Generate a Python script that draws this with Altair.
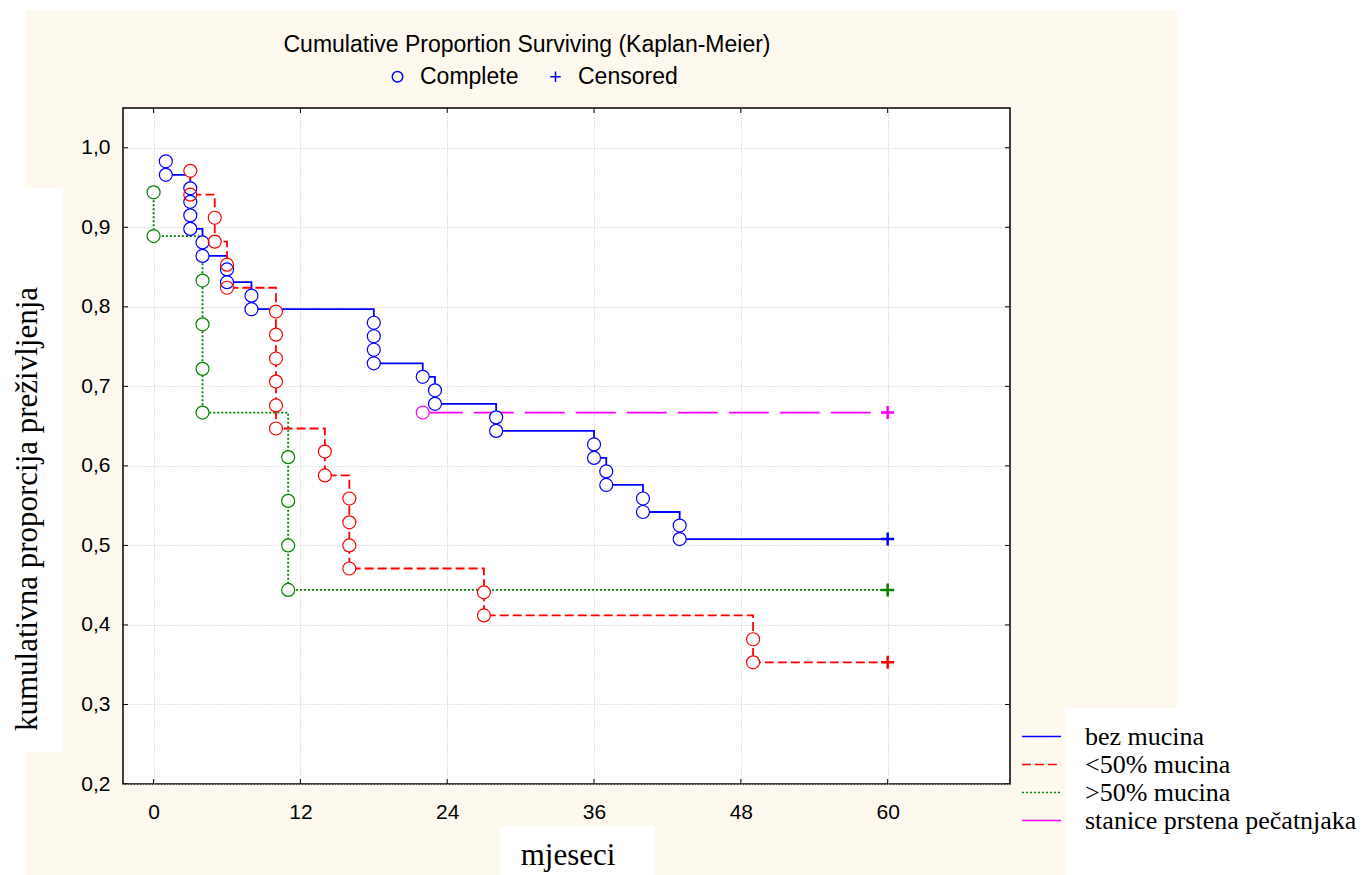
import altair as alt
import pandas as pd

# ---------------- data ----------------
groups = ["bez mucina", "<50% mucina", ">50% mucina", "stanice prstena pečatnjaka"]
colors = ["#0000FF", "#FF0000", "#008000", "#FF00FF"]
dashes = [[1, 0], [9, 4], [2, 2], [40, 11]]

blue_t = [1, 1, 3, 3, 3, 3, 4, 4, 6, 6, 8, 8, 18, 18, 18, 18, 22, 23, 23, 28, 28,
          36, 36, 37, 37, 40, 40, 43, 43]
blue_s = [0.983, 0.966, 0.949, 0.932, 0.915, 0.898, 0.881, 0.864, 0.847, 0.831,
          0.814, 0.797, 0.780, 0.763, 0.746, 0.729, 0.712, 0.695, 0.678, 0.661,
          0.644, 0.627, 0.610, 0.593, 0.576, 0.559, 0.542, 0.525, 0.508]

red_t = [3, 3, 5, 5, 6, 6, 10, 10, 10, 10, 10, 10, 14, 14, 16, 16, 16, 16, 27, 27, 49, 49]
red_s = [0.971, 0.941, 0.912, 0.882, 0.853, 0.824, 0.794, 0.765, 0.735, 0.706, 0.676,
         0.647, 0.618, 0.588, 0.559, 0.529, 0.500, 0.471, 0.441, 0.412, 0.382, 0.353]

green_t = [0, 0, 4, 4, 4, 4, 11, 11, 11, 11]
green_s = [0.944, 0.889, 0.833, 0.778, 0.722, 0.667, 0.611, 0.556, 0.500, 0.444]

magenta_t = [22]
magenta_s = [0.667]

censor_t = [60, 60, 60, 60]
censor_s = [0.508, 0.353, 0.444, 0.667]

x_ticks = [0, 12, 24, 36, 48, 60]
y_ticks = [0.2, 0.3, 0.4, 0.5, 0.6, 0.7, 0.8, 0.9, 1.0]

chart_title = "Cumulative Proportion Surviving (Kaplan-Meier)"
x_title = "mjeseci"
y_title = "kumulativna proporcija preživljenja"
kinds = ["Complete", "Censored"]

X_MIN, X_MAX = -2.5, 70
Y_MIN, Y_MAX = 0.2, 1.05

# ---------------- tables ----------------
ev_rows, cen_rows = [], []
series = [(blue_t, blue_s), (red_t, red_s), (green_t, green_s), (magenta_t, magenta_s)]
for g, (ts, ss) in zip(groups, series):
    for i, (t, s) in enumerate(zip(ts, ss)):
        ev_rows.append({"group": g, "t": t, "s": s, "kind": "Complete", "i": i})
for k, g in enumerate(groups):
    cen_rows.append({"group": g, "t": censor_t[k], "s": censor_s[k], "kind": "Censored", "i": 1000})
ev_df = pd.DataFrame(ev_rows)
cen_df = pd.DataFrame(cen_rows)
line_df = pd.concat([ev_df, cen_df], ignore_index=True)

# ---------------- scales / axes / legends ----------------
x_scale = alt.Scale(domain=[X_MIN, X_MAX], nice=False, zero=False)
y_scale = alt.Scale(domain=[Y_MIN, Y_MAX], nice=False, zero=False)
color_scale = alt.Scale(domain=groups, range=colors)
dash_scale = alt.Scale(domain=groups, range=dashes)
PLUS = "M-1,0H1M0,-1V1"
shape_scale = alt.Scale(domain=kinds, range=["circle", PLUS])

x_axis = alt.Axis(values=x_ticks, title=None, labelFont="Liberation Sans", labelFontSize=21,
                  labelColor="black", labelPadding=17, tickSize=0, domain=False, grid=True,
                  gridColor="#C4C4C4", gridDash=[1, 2], labelFlush=False)
y_axis = alt.Axis(values=y_ticks, title=None, labelFont="Liberation Sans", labelFontSize=21,
                  labelColor="black", labelPadding=13, tickSize=0, domain=False, grid=True,
                  gridColor="#C4C4C4", gridDash=[1, 2], labelFlush=False,
                  labelExpr="replace(format(datum.value, '.1f'), '.', ',')")

LEG_LINE = "M-1.45,0H1.45"
group_legend = alt.Legend(title=None, orient="none", legendX=904, legendY=614,
                          labelFont="Liberation Serif", labelFontSize=26, labelColor="black",
                          symbolType=LEG_LINE, symbolSize=729, symbolStrokeWidth=1.5,
                          labelOffset=29, rowPadding=0, labelLimit=0, zindex=1)

shape_legend = alt.Legend(title=None, orient="none", direction="horizontal",
                          legendX=263, legendY=-43, labelFont="Liberation Sans",
                          labelFontSize=23, labelColor="black", symbolStrokeColor="#0000FF",
                          symbolFillColor="transparent", symbolSize=110,
                          symbolStrokeWidth=1.5, labelOffset=11, columnPadding=25,
                          labelLimit=0, zindex=1)

# ---------------- layers ----------------
one = pd.DataFrame({"k": [0]})


def box(x0, x1, y0, y1):
    return alt.Chart(one).mark_rect(color="white").encode(
        x=alt.value(x0), x2=alt.value(x1), y=alt.value(y0), y2=alt.value(y1))


boxes = [
    box(-123, 1244, -108, -98),   # top strip
    box(-123, -98, -108, 767),    # left strip
    box(1054, 1244, -108, 600),   # right area
    box(-123, -60, 80, 644),      # y title box
    box(377, 531, 718, 767),      # x title box
    box(942, 1244, 600, 767),     # legend box
]

X = lambda f: alt.X(f, scale=x_scale, axis=x_axis)
Y = lambda f: alt.Y(f, scale=y_scale, axis=y_axis)

lines = alt.Chart(line_df).mark_line(interpolate="step-after", strokeWidth=1.8).encode(
    x=X("t:Q"), y=Y("s:Q"),
    color=alt.Color("group:N", scale=color_scale, legend=group_legend),
    strokeDash=alt.StrokeDash("group:N", scale=dash_scale, legend=group_legend),
    order=alt.Order("i:Q"),
)

# white discs under the hollow circles, so the step lines do not show through them
discs = alt.Chart(ev_df).mark_point(filled=True, color="white", shape="circle", size=169,
                                    opacity=1).encode(x=X("t:Q"), y=Y("s:Q"))

circles = alt.Chart(ev_df).mark_point(filled=False, size=169, strokeWidth=1.2, opacity=1).encode(
    x=X("t:Q"), y=Y("s:Q"),
    color=alt.Color("group:N", scale=color_scale, legend=None),
    shape=alt.Shape("kind:N", scale=shape_scale, legend=shape_legend),
)

pluses = alt.Chart(cen_df).mark_point(filled=False, size=169, strokeWidth=2.5, opacity=1).encode(
    x=X("t:Q"), y=Y("s:Q"),
    color=alt.Color("group:N", scale=color_scale, legend=None),
    shape=alt.Shape("kind:N", scale=shape_scale, legend=shape_legend),
)

xt_df = pd.DataFrame({"v": x_ticks + x_ticks, "p": [Y_MIN] * len(x_ticks) + [Y_MAX] * len(x_ticks)})
yt_df = pd.DataFrame({"v": y_ticks + y_ticks, "p": [X_MIN] * len(y_ticks) + [X_MAX] * len(y_ticks)})

xticks = alt.Chart(xt_df).mark_tick(orient="vertical", size=10, thickness=1, color="black",
                                    clip=True, opacity=1).encode(x=X("v:Q"), y=Y("p:Q"))
yticks = alt.Chart(yt_df).mark_tick(orient="horizontal", size=10, thickness=1, color="black",
                                    clip=True, opacity=1).encode(x=X("p:Q"), y=Y("v:Q"))

ytext = alt.Chart(pd.DataFrame({"t": [y_title]})).mark_text(
    font="Liberation Serif", fontSize=31, angle=270, align="center", baseline="alphabetic",
    color="black").encode(text="t:N", x=alt.value(-86), y=alt.value(401))
xtext = alt.Chart(pd.DataFrame({"t": [x_title]})).mark_text(
    font="Liberation Serif", fontSize=31, align="center", baseline="alphabetic",
    color="black").encode(text="t:N", x=alt.value(445), y=alt.value(757))
ttext = alt.Chart(pd.DataFrame({"t": [chart_title]})).mark_text(
    font="Liberation Sans", fontSize=23, align="center", baseline="alphabetic",
    color="black").encode(text="t:N", x=alt.value(404), y=alt.value(-56))

chart = alt.layer(*boxes, lines, discs, circles, pluses, xticks, yticks,
                  ytext, xtext, ttext).properties(
    width=887, height=676,
    autosize=alt.AutoSizeParams(type="none"),
    padding={"left": 123, "top": 108, "right": 357, "bottom": 91},
).configure(background="#FDF9EF").configure_view(stroke="black", strokeWidth=1.5, fill="white")

chart.save("out.html", embed_options={"renderer": "svg", "actions": False})
